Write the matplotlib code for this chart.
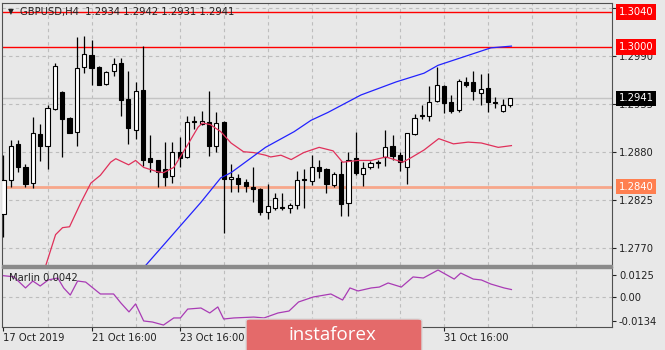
import numpy as np
import matplotlib
matplotlib.use("Agg")
import matplotlib.pyplot as plt
from matplotlib.patches import Rectangle, FancyBboxPatch

plt.rcParams['font.family'] = ['DejaVu Sans']

# GBPUSD H4 candles (bar 0 = 17 Oct 2019 16:00)
opens = [1.2809, 1.2848, 1.2889, 1.2863, 1.2844, 1.2900, 1.2887, 1.2929, 1.2948, 1.2919,
         1.2903, 1.2977, 1.2991, 1.2977, 1.2958, 1.2972, 1.2982, 1.2940, 1.2905, 1.2951,
         1.2873, 1.2870, 1.2860, 1.2852, 1.2880, 1.2874, 1.2915, 1.2912, 1.2914, 1.2886,
         1.2914, 1.2849, 1.2850, 1.2845, 1.2840, 1.2837, 1.2811, 1.2816, 1.2817, 1.2815,
         1.2819, 1.2849, 1.2846, 1.2863, 1.2860, 1.2842, 1.2855, 1.2821, 1.2873, 1.2855,
         1.2863, 1.2868, 1.2874, 1.2887, 1.2876, 1.2863, 1.2900, 1.2922, 1.2921, 1.2938,
         1.2955, 1.2937, 1.2928, 1.2960, 1.2960, 1.2947, 1.2953, 1.2937, 1.2927, 1.2934]
highs = [1.2876, 1.2893, 1.2893, 1.2866, 1.2920, 1.2912, 1.2933, 1.2982, 1.2950, 1.2920,
         1.3012, 1.3013, 1.3008, 1.2978, 1.2973, 1.2987, 1.2987, 1.2972, 1.2960, 1.3001,
         1.2899, 1.2870, 1.2891, 1.2891, 1.2897, 1.2921, 1.2921, 1.2927, 1.2950, 1.2926,
         1.2915, 1.2866, 1.2855, 1.2849, 1.2862, 1.2838, 1.2843, 1.2833, 1.2833, 1.2821,
         1.2858, 1.2860, 1.2876, 1.2870, 1.2861, 1.2857, 1.2869, 1.2880, 1.2903, 1.2868,
         1.2869, 1.2870, 1.2905, 1.2899, 1.2880, 1.2902, 1.2923, 1.2934, 1.2955, 1.2977,
         1.2957, 1.2945, 1.2963, 1.2966, 1.2973, 1.2969, 1.2970, 1.2943, 1.2940, 1.2942]
lows = [1.2782, 1.2840, 1.2857, 1.2839, 1.2838, 1.2869, 1.2860, 1.2928, 1.2874, 1.2901,
        1.2887, 1.2970, 1.2957, 1.2956, 1.2957, 1.2967, 1.2921, 1.2889, 1.2894, 1.2864,
        1.2857, 1.2840, 1.2841, 1.2844, 1.2862, 1.2873, 1.2906, 1.2911, 1.2875, 1.2880,
        1.2787, 1.2834, 1.2834, 1.2834, 1.2822, 1.2807, 1.2803, 1.2813, 1.2813, 1.2810,
        1.2814, 1.2815, 1.2842, 1.2850, 1.2833, 1.2839, 1.2806, 1.2806, 1.2853, 1.2841,
        1.2860, 1.2861, 1.2864, 1.2870, 1.2858, 1.2843, 1.2899, 1.2918, 1.2915, 1.2937,
        1.2924, 1.2924, 1.2926, 1.2954, 1.2939, 1.2934, 1.2925, 1.2930, 1.2925, 1.2931]
closes = [1.2848, 1.2887, 1.2863, 1.2843, 1.2901, 1.2887, 1.2930, 1.2978, 1.2918, 1.2902,
          1.2976, 1.2992, 1.2976, 1.2957, 1.2971, 1.2980, 1.2939, 1.2907, 1.2950, 1.2870,
          1.2868, 1.2857, 1.2851, 1.2880, 1.2873, 1.2914, 1.2914, 1.2915, 1.2887, 1.2913,
          1.2849, 1.2851, 1.2843, 1.2841, 1.2837, 1.2811, 1.2818, 1.2827, 1.2816, 1.2819,
          1.2848, 1.2848, 1.2862, 1.2858, 1.2843, 1.2854, 1.2820, 1.2871, 1.2856, 1.2861,
          1.2867, 1.2867, 1.2885, 1.2875, 1.2868, 1.2901, 1.2919, 1.2921, 1.2937, 1.2956,
          1.2936, 1.2927, 1.2961, 1.2957, 1.2949, 1.2952, 1.2937, 1.2936, 1.2934, 1.2941]

# moving averages (bar position, value)
ma_red_bar = [5.3, 5.7, 7.1, 8.05, 9.0, 10.5, 11.9, 13.2, 14.6, 15.3, 17.05, 18.0, 19.1, 21.0,
              21.8, 23.2, 25.1, 26.5, 27.1, 28.2, 29.6, 31.0, 32.7, 34.1, 35.7, 36.4, 37.8,
              39.2, 40.9, 43.0, 44.9, 46.2, 48.3, 50.1, 52.1, 54.4, 55.5, 57.3, 59.3, 61.3,
              63.3, 65.1, 67.4, 69.2]
ma_red_val = [1.2739, 1.2748, 1.2785, 1.2793, 1.2794, 1.2821, 1.2844, 1.2853, 1.2868, 1.2872,
              1.2865, 1.2870, 1.2862, 1.2857, 1.2856, 1.2862, 1.2888, 1.2908, 1.2913, 1.2911,
              1.2903, 1.2890, 1.2880, 1.2879, 1.2876, 1.2874, 1.2876, 1.2871, 1.2879, 1.2885,
              1.2881, 1.2868, 1.2870, 1.2870, 1.2874, 1.2868, 1.2873, 1.2882, 1.2895, 1.2889,
              1.2891, 1.2890, 1.2885, 1.2887]
ma_blue_bar = [18.7, 19.4, 21.8, 26.9, 29.6, 31.0, 35.7, 39.6, 41.9, 44.2, 48.7, 53.5, 57.3,
               59.2, 62.8, 66.4, 69.2]
ma_blue_val = [1.2742, 1.2750, 1.2773, 1.2822, 1.2850, 1.2856, 1.2885, 1.2903, 1.2916, 1.2925,
               1.2945, 1.2960, 1.2970, 1.2979, 1.2989, 1.2999, 1.3001]

# Marlin oscillator
marlin_bar = [0.0, 1.4, 3.0, 4.0, 5.0, 6.1, 7.4, 8.2, 9.1, 10.1, 11.2, 13.2, 15.0, 16.0, 17.1,
              18.0, 19.1, 20.3, 21.8, 23.2, 24.1, 25.1, 26.9, 28.1, 29.2, 30.0, 31.4, 34.1,
              35.5, 37.4, 38.9, 40.2, 42.2, 44.6, 46.2, 47.2, 48.3, 50.1, 51.2, 52.4, 54.2,
              55.8, 57.2, 59.2, 61.4, 62.3, 64.0, 65.1, 66.4, 68.2, 69.2]
marlin_val = [0.0120, 0.0114, 0.0051, 0.0090, 0.0062, 0.0096, 0.0107, 0.0051, 0.0011, 0.0090,
              0.0084, 0.0017, 0.0017, -0.0034, -0.0084, -0.0039, -0.0135, -0.0141, -0.0158,
              -0.0118, -0.0118, -0.0068, -0.0062, -0.0090, -0.0056, -0.0124, -0.0118, -0.0113,
              -0.0118, -0.0090, -0.0079, -0.0028, 0.0000, 0.0017, -0.0017, 0.0051, 0.0034,
              0.0051, 0.0056, 0.0079, 0.0056, 0.0113, 0.0107, 0.0152, 0.0101, 0.0135, 0.0101,
              0.0096, 0.0073, 0.0051, 0.0042]

price_ticks = [1.2770, 1.2825, 1.2880, 1.2935, 1.2990, 1.3045]
marlin_ticks = [-0.0134, 0.0, 0.0125]
marlin_tick_labels = ['-0.0134', '0.00', '0.0125']
# 25 Oct / 29 Oct labels sit under the watermark, so only their ticks remain
date_bars = [0, 12, 24, 36, 48, 60]
date_labels = ['17 Oct 2019', '21 Oct 16:00', '23 Oct 16:00', '', '', '31 Oct 16:00']
levels = [(1.3040, '#FF0000', '#FF0000'), (1.3000, '#FF0000', '#FF0000'),
          (1.2840, '#F7A68A', '#FF7F50')]
last_price = 1.2941

bg = '#E8E8E8'
W, H = 665, 350

fig = plt.figure(figsize=(6.65, 3.5), dpi=100, facecolor=bg)
ax = fig.add_axes([2 / W, 1 - 265 / H, 610 / W, 262 / H], facecolor=bg)
ax2 = fig.add_axes([2 / W, 1 - 327 / H, 610 / W, 60 / H], facecolor=bg)

xl = (-0.2, 82.9)
n = len(opens)
x = np.arange(n)
o = np.array(opens); c = np.array(closes)
up = c >= o

# grid
for a in (ax, ax2):
    for b in range(6, 84, 6):
        a.axvline(b, color='#BDBDBD', lw=0.8, ls=(0, (3, 3)), zorder=1)
for p in price_ticks:
    ax.axhline(p, color='#BDBDBD', lw=0.8, ls=(0, (3, 3)), zorder=1)
ax.axhline(last_price, color='#C4C4C4', lw=1, zorder=1)

for lv, lc, bc in levels:
    ax.axhline(lv, color=lc, lw=2 if lv == 1.2840 else 1, zorder=2)

# candles
ax.vlines(x, lows, highs, color='black', lw=0.9, zorder=3)
ax.bar(x[up], c[up] - o[up], bottom=o[up], width=0.56, color='white',
       edgecolor='black', linewidth=0.8, zorder=4)
ax.bar(x[~up], o[~up] - c[~up], bottom=c[~up], width=0.56, color='black',
       edgecolor='black', linewidth=0.8, zorder=4)

ax.plot(ma_red_bar, ma_red_val, color='#E0305A', lw=0.9, zorder=5)
ax.plot(ma_blue_bar, ma_blue_val, color='#2222FF', lw=0.9, zorder=5)

ax.set_xlim(*xl)
ax.set_ylim(1.27502, 1.30504)
ax.set_xticks([])
ax.yaxis.tick_right()
ax.set_yticks(price_ticks)
ax.set_yticklabels(['%.4f' % p for p in price_ticks])
ax.tick_params(axis='y', direction='out', length=3, width=0.8, pad=2,
               labelsize=7.2, colors='#222222')

for sp in ax.spines.values():
    sp.set_color('#505050'); sp.set_linewidth(0.8)
ax.spines['bottom'].set_visible(False)

# price boxes on the right
tr = ax.get_yaxis_transform()
for lv, lc, bc in levels:
    ax.text(1.0105, lv, '%.4f' % lv, transform=tr, color='white', fontsize=7.2,
            va='center', ha='left', clip_on=False, zorder=10,
            bbox=dict(boxstyle='square,pad=0.28', fc=bc, ec='none'))
ax.text(1.0105, last_price, '%.4f' % last_price, transform=tr, color='white',
        fontsize=7.2, va='center', ha='left', clip_on=False, zorder=10,
        bbox=dict(boxstyle='square,pad=0.28', fc='black', ec='none'))

# header
fig.text(8 / W, 1 - 12 / H, '\u25BC', fontsize=5.5, va='center', ha='left', color='#222222')
fig.text(20 / W, 1 - 12 / H, 'GBPUSD,H4  1.2934 1.2942 1.2931 1.2941', fontsize=7.2,
         va='center', ha='left', color='#222222')

# Marlin panel
ax2.axhline(0, color='#BDBDBD', lw=0.8, ls=(0, (3, 3)), zorder=1)
ax2.plot(marlin_bar, marlin_val, color='#A93BB5', lw=0.9, zorder=3)
ax2.set_xlim(*xl)
ax2.set_ylim(-0.0169, 0.0169)
ax2.yaxis.tick_right()
ax2.set_yticks(marlin_ticks)
ax2.set_yticklabels(marlin_tick_labels)
ax2.tick_params(axis='y', direction='out', length=3, width=0.8, pad=2,
                labelsize=7.2, colors='#222222')
ax2.set_xticks(date_bars)
ax2.set_xticklabels(date_labels, ha='left')
ax2.tick_params(axis='x', direction='out', length=3, width=0.8, pad=1.5,
                labelsize=7.2, colors='#222222')
for sp in ax2.spines.values():
    sp.set_color('#505050'); sp.set_linewidth(0.8)
ax2.text(7 / 610, 0.82, 'Marlin 0.0042', transform=ax2.transAxes, fontsize=7.2,
         va='center', ha='left', color='#222222', zorder=6)

# panel separator
fig.patches.append(Rectangle((2 / W, 1 - 267.5 / H), 610 / W, 3 / H,
                             transform=fig.transFigure, color='#8A8A8A'))

# watermark
fig.patches.append(FancyBboxPatch((246 / W, 1 - 352 / H), 176 / W, 33 / H,
                                  boxstyle='round,pad=0,rounding_size=0.006',
                                  transform=fig.transFigure, fc='#E46A6A',
                                  ec='#D9D9D9', lw=1, zorder=20))
fig.text(332 / W, 1 - 335 / H, 'instaforex', fontsize=13.5, color='white',
         va='center', ha='center', zorder=21, family=['Open Sans', 'DejaVu Sans'])

fig.savefig('out.png', dpi=100, facecolor=bg)
